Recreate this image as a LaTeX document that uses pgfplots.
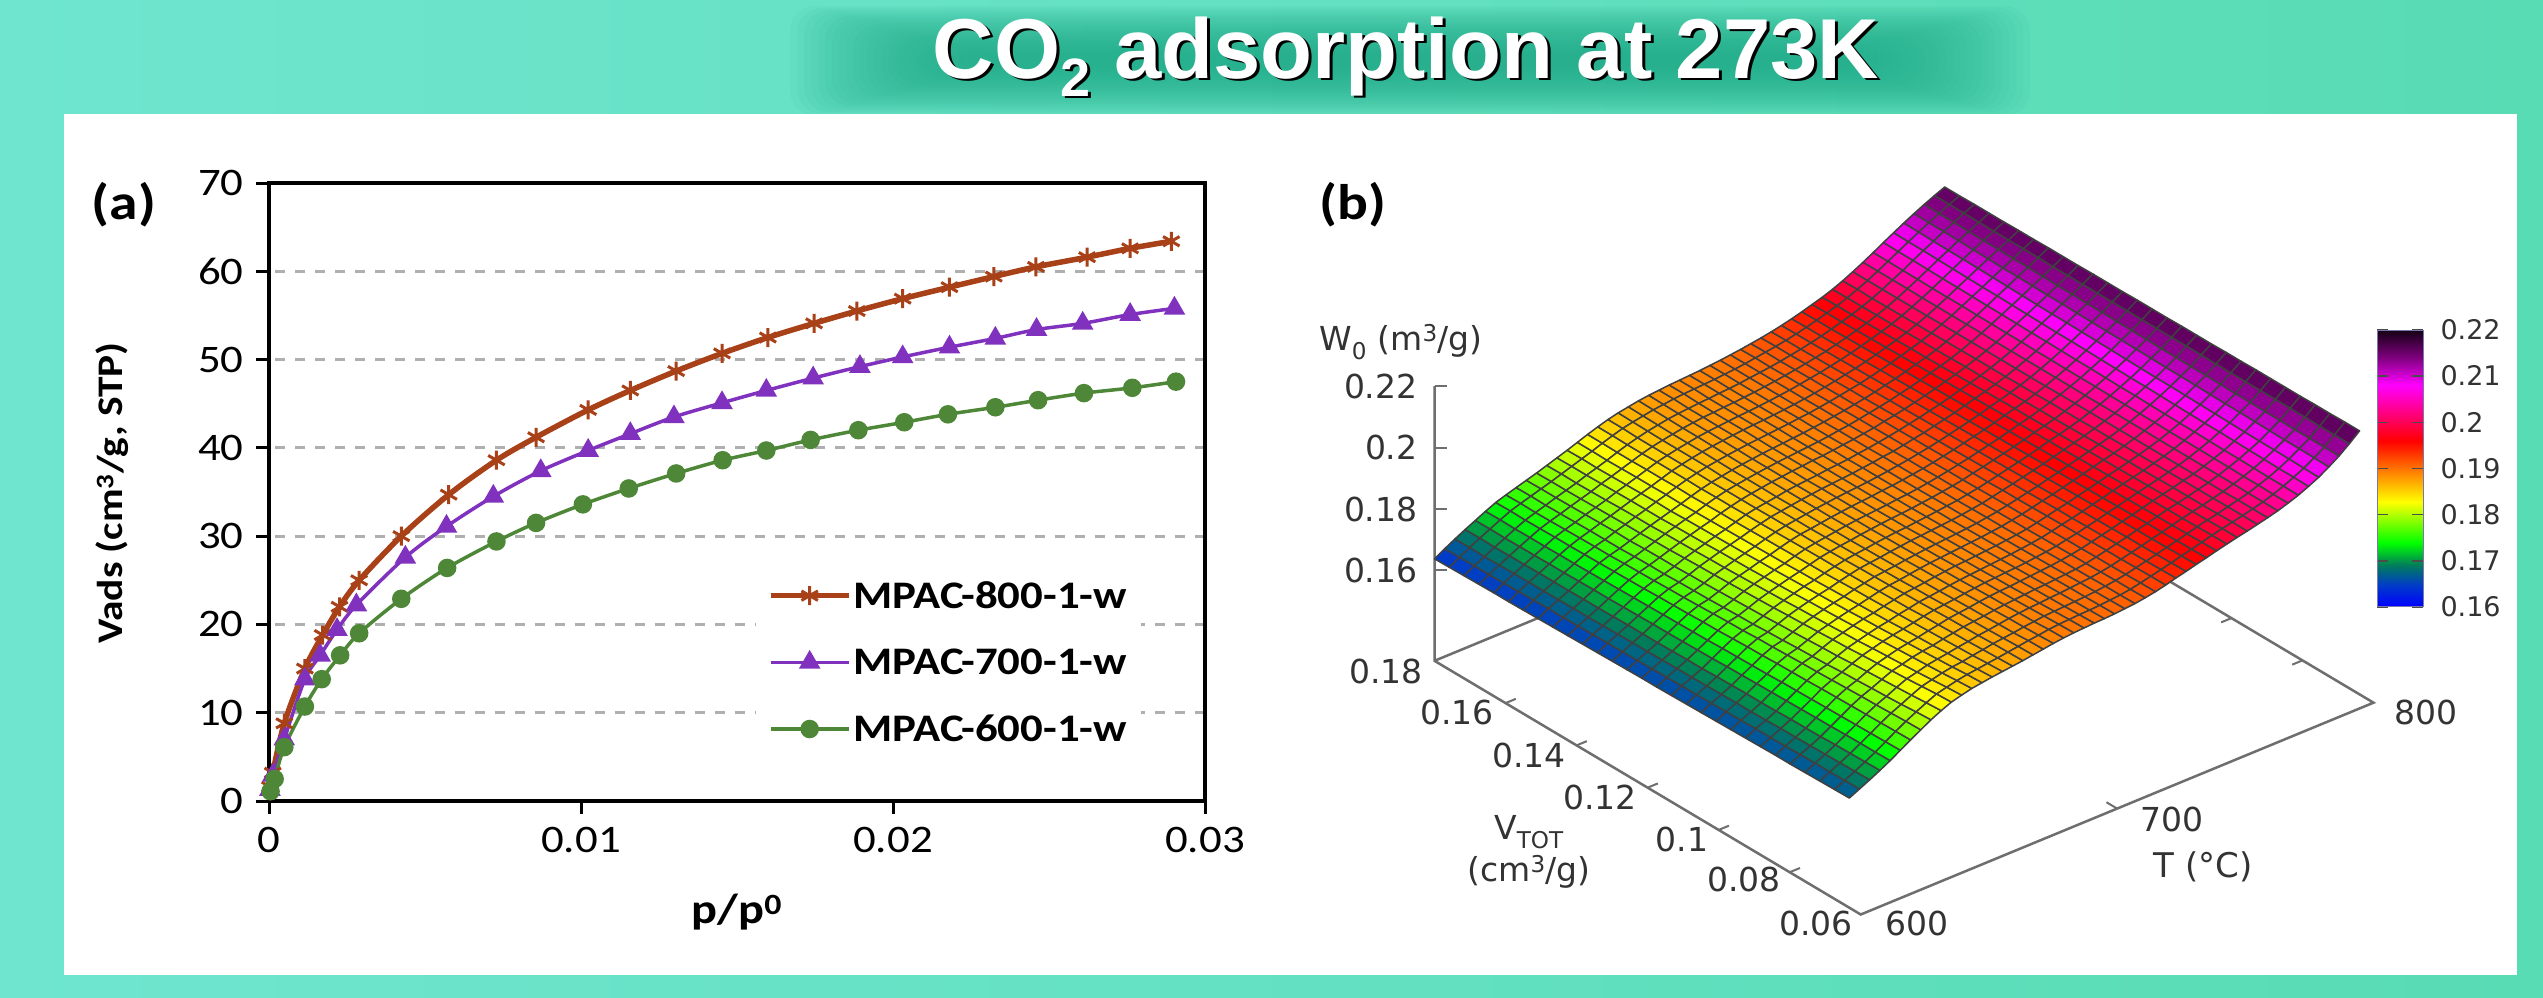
\documentclass[border=0pt]{standalone}
\usepackage{fontspec}
\usepackage{pgfplots}
\pgfplotsset{compat=1.18}
\newfontfamily\calf[FakeStretch=1.15]{Carlito}
\newfontfamily\ttlf{Liberation Sans}
\newfontfamily\gpf{DejaVu Sans}
\newcommand{\fs}[1]{\fontsize{#1}{#1}\selectfont}
\definecolor{c8}{RGB}{168,64,24}
\definecolor{c7}{RGB}{128,50,190}
\definecolor{c6}{RGB}{78,135,55}
\definecolor{gax}{RGB}{110,110,110}
\definecolor{bgl}{RGB}{111,229,207}
\definecolor{bgm}{RGB}{85,232,195}
\definecolor{bgr}{RGB}{88,220,180}
\definecolor{band}{RGB}{30,170,135}
\definecolor{gridc}{RGB}{175,175,175}
\definecolor{cbline}{RGB}{120,120,170}
\pgfplotsset{colormap={gnu}{rgb255(0pt)=(0,0,255); rgb255(8pt)=(0,60,200); rgb255(15pt)=(0,125,90); rgb255(23pt)=(0,255,0); rgb255(38pt)=(255,255,0); rgb255(60pt)=(255,0,0); rgb255(80pt)=(255,0,255); rgb255(90pt)=(128,0,128); rgb255(100pt)=(20,0,20)}}
\begin{document}
\begin{tikzpicture}[x=1pt,y=1pt]
\useasboundingbox (0,0) rectangle (2543,997);
\shade[left color=bgl,middle color=bgm,right color=bgr] (0,0) rectangle (2543,997);
\foreach \r in {0,...,24}{\fill[band,opacity=0.06,rounded corners=25pt] ({790+\r*7},{997-116+\r*2}) rectangle ({2030-\r*7},{997-6-\r*2});}
\fill[white] (64,22) rectangle (2517,883);
\node[anchor=base,text=black] at (1409,{997-81}) {\ttlf\bfseries\fs{85}CO{\fs{54}\raisebox{-18pt}{2}} adsorption at 273K};
\node[anchor=base,text=white] at (1406,{997-78.5}) {\ttlf\bfseries\fs{85}CO{\fs{54}\raisebox{-18pt}{2}} adsorption at 273K};

% panel a
\begin{axis}[name=a,at={(269pt,196pt)},anchor=south west,scale only axis,width=936pt,height=618pt,
 xmin=0,xmax=0.03,ymin=0,ymax=70,clip=false,
 xtick={0,0.01,0.02,0.03},xticklabels={0,0.01,0.02,0.03},
 ytick={0,10,20,30,40,50,60,70},yticklabels={0,10,20,30,40,50,60,70},
 scaled x ticks=false,
 xtick pos=bottom,ytick pos=left,tick align=outside,
 major tick length=13pt,
 tick style={black,line width=3pt},
 axis line style={line width=3.5pt,black},
 tick label style={font=\calf\fs{39}},
 xticklabel style={yshift=-10pt},
 yticklabel style={xshift=-9pt},
 ymajorgrids,
 grid style={line width=3pt,color=gridc,dash pattern=on 10pt off 10pt,dash phase=-6pt},
 legend style={at={(0.52,0.375)},anchor=north west,draw=none,fill=white,font=\calf\bfseries\fs{39},
   row sep=35pt,inner xsep=12pt,inner ysep=10pt,cells={anchor=west}},
 legend image code/.code={\draw[mark repeat=2,mark phase=2,#1] plot coordinates {(0pt,0pt)(39pt,0pt)(78pt,0pt)};},
]
\addplot[c8,line width=5.5pt,smooth,mark=asterisk,mark size=9.5pt,mark options={solid,line width=3pt}] coordinates {
(0.00003,1.6)(0.00012,3.2)(0.00049,8.8)(0.00115,15)(0.00172,18.8)(0.00226,22)(0.00289,25)(0.00424,30)(0.00576,34.7)(0.00729,38.6)(0.00856,41.2)(0.01023,44.3)(0.01158,46.5)(0.01305,48.7)(0.01452,50.7)(0.01599,52.5)(0.01747,54.1)(0.01884,55.5)(0.02031,56.9)(0.02181,58.2)(0.02323,59.4)(0.02458,60.5)(0.02622,61.6)(0.0276,62.6)(0.02892,63.4)};
\addlegendentry{MPAC-800-1-w}
\addplot[c7,line width=3.5pt,smooth,mark=triangle*,mark size=9pt,mark options={solid}] coordinates {
(0.00003,1.3)(0.00012,2.9)(0.00049,7)(0.00115,13.8)(0.00164,16.5)(0.00218,19.4)(0.0028,22.2)(0.00437,27.6)(0.00569,31.1)(0.00719,34.5)(0.00871,37.4)(0.01023,39.7)(0.01158,41.6)(0.01298,43.5)(0.01452,45.1)(0.01594,46.5)(0.01744,47.9)(0.01894,49.2)(0.02031,50.3)(0.02181,51.4)(0.02328,52.4)(0.0246,53.4)(0.02608,54.1)(0.0276,55.1)(0.02902,55.8)};
\addlegendentry{MPAC-700-1-w}
\addplot[c6,line width=3.5pt,smooth,mark=*,mark size=7.5pt,mark options={solid}] coordinates {
(0.00005,1.1)(0.00018,2.5)(0.00049,6.1)(0.00115,10.7)(0.00169,13.8)(0.00228,16.5)(0.00289,19)(0.00424,22.9)(0.00571,26.4)(0.00729,29.4)(0.00856,31.5)(0.01006,33.6)(0.01153,35.4)(0.01305,37.1)(0.01454,38.6)(0.01594,39.7)(0.01736,40.9)(0.01889,42)(0.02036,42.9)(0.02176,43.8)(0.02328,44.6)(0.02465,45.4)(0.02612,46.2)(0.02767,46.8)(0.02907,47.5)};
\addlegendentry{MPAC-600-1-w}
\end{axis}
\node[anchor=center] at (124,{997-205}) {\calf\bfseries\fs{50}(a)};
\node[anchor=center] at (1353,{997-205}) {\calf\bfseries\fs{50}(b)};
\node[anchor=center,rotate=90] at (112,{997-493}) {\calf\bfseries\fs{36}Vads (cm\textsuperscript{3}/g, STP)};
\node[anchor=center] at (737,{997-912}) {\calf\bfseries\fs{42}p/p\textsuperscript{0}};

% panel b
\begin{axis}[name=b,at={(1434.5pt,82.5pt)},anchor=south west,
 x={(2.5638pt,1.0591pt)},y={(-3552pt,2114pt)},z={(0pt,3072.6pt)},
 xmin=600,xmax=800,ymin=0.06,ymax=0.18,zmin=0.1306,zmax=0.22,
 hide axis,clip=false,colormap name=gnu,point meta min=0.16,point meta max=0.22]
\addplot3[gax,line width=2.5pt,no markers] coordinates {(600,0.18,0.22)(600,0.18,0.1306)(600,0.06,0.1306)(800,0.06,0.1306)(800,0.18,0.1306)(600,0.18,0.1306)};
\draw[gax,line width=2pt] (axis cs:600,0.18,0.22) -- ++(12pt,0pt);
\draw[gax,line width=2pt] (axis cs:600,0.18,0.20) -- ++(12pt,0pt);
\draw[gax,line width=2pt] (axis cs:600,0.18,0.18) -- ++(12pt,0pt);
\draw[gax,line width=2pt] (axis cs:600,0.18,0.16) -- ++(12pt,0pt);
\draw[gax,line width=2pt] (axis cs:600,0.16,0.1306) -- (axis cs:604,0.16,0.1306);
\draw[gax,line width=2pt] (axis cs:600,0.14,0.1306) -- (axis cs:604,0.14,0.1306);
\draw[gax,line width=2pt] (axis cs:600,0.12,0.1306) -- (axis cs:604,0.12,0.1306);
\draw[gax,line width=2pt] (axis cs:600,0.10,0.1306) -- (axis cs:604,0.10,0.1306);
\draw[gax,line width=2pt] (axis cs:600,0.08,0.1306) -- (axis cs:604,0.08,0.1306);
\draw[gax,line width=2pt] (axis cs:800,0.10,0.1306) -- (axis cs:796,0.10,0.1306);
\draw[gax,line width=2pt] (axis cs:800,0.08,0.1306) -- (axis cs:796,0.08,0.1306);
\draw[gax,line width=2pt] (axis cs:700,0.06,0.1306) -- (axis cs:700,0.063,0.1306);
\addplot3[surf,shader=faceted,faceted color=black!75,line width=1.5pt,line join=round,mesh/cols=51,mesh/rows=29,mesh/ordering=y varies,z buffer=none,point meta=z]
table[x expr={600+3.98*floor((\coordindex+0.5)/29)},y expr={0.18-0.1168/28*(\coordindex-29*floor((\coordindex+0.5)/29))},z expr={\thisrowno{0}*0.0001},header=false,row sep=\\] {
1638\\1639\\1640\\1641\\1642\\1642\\1643\\1644\\1645\\1646\\1647\\1648\\1649\\1650\\1651\\1651\\1652\\1653\\1654\\1655\\1656\\1657\\1658\\1659\\1659\\1660\\1661\\1662\\1663\\
1657\\1658\\1659\\1659\\1660\\1661\\1662\\1663\\1663\\1664\\1665\\1666\\1666\\1667\\1668\\1669\\1670\\1670\\1671\\1672\\1673\\1674\\1674\\1675\\1676\\1677\\1677\\1678\\1679\\
1675\\1676\\1675\\1676\\1677\\1678\\1678\\1678\\1679\\1679\\1680\\1681\\1682\\1682\\1683\\1684\\1684\\1685\\1686\\1687\\1687\\1688\\1690\\1690\\1691\\1692\\1693\\1694\\1695\\
1692\\1693\\1692\\1693\\1693\\1694\\1694\\1694\\1695\\1695\\1696\\1697\\1697\\1697\\1698\\1699\\1699\\1701\\1702\\1703\\1703\\1704\\1706\\1706\\1707\\1709\\1710\\1711\\1712\\
1708\\1709\\1708\\1709\\1709\\1710\\1710\\1711\\1712\\1712\\1713\\1714\\1715\\1715\\1716\\1717\\1718\\1720\\1721\\1722\\1723\\1724\\1725\\1726\\1727\\1728\\1729\\1729\\1730\\
1724\\1725\\1724\\1725\\1725\\1726\\1726\\1727\\1728\\1729\\1730\\1731\\1732\\1733\\1734\\1735\\1737\\1738\\1739\\1740\\1742\\1743\\1744\\1745\\1746\\1747\\1748\\1749\\1750\\
1739\\1740\\1739\\1740\\1741\\1741\\1742\\1743\\1744\\1745\\1746\\1748\\1749\\1750\\1752\\1753\\1755\\1757\\1758\\1760\\1761\\1762\\1764\\1765\\1766\\1767\\1768\\1769\\1770\\
1750\\1751\\1750\\1751\\1752\\1753\\1754\\1754\\1756\\1757\\1758\\1760\\1761\\1763\\1765\\1767\\1768\\1771\\1772\\1774\\1776\\1777\\1779\\1781\\1783\\1784\\1786\\1788\\1789\\
1760\\1761\\1760\\1761\\1762\\1763\\1763\\1763\\1765\\1766\\1766\\1768\\1769\\1770\\1772\\1774\\1775\\1778\\1780\\1783\\1785\\1787\\1791\\1793\\1796\\1798\\1801\\1805\\1808\\
1770\\1771\\1771\\1772\\1773\\1774\\1775\\1774\\1776\\1777\\1777\\1779\\1780\\1782\\1784\\1786\\1788\\1791\\1793\\1796\\1799\\1801\\1805\\1808\\1811\\1814\\1817\\1821\\1824\\
1780\\1781\\1781\\1782\\1783\\1784\\1785\\1785\\1787\\1788\\1790\\1792\\1793\\1795\\1797\\1799\\1801\\1804\\1806\\1809\\1812\\1814\\1818\\1821\\1825\\1828\\1832\\1836\\1838\\
1791\\1792\\1791\\1792\\1793\\1795\\1796\\1796\\1798\\1799\\1800\\1802\\1803\\1805\\1807\\1809\\1811\\1814\\1816\\1818\\1821\\1823\\1827\\1830\\1833\\1836\\1840\\1844\\1847\\
1802\\1803\\1803\\1804\\1805\\1806\\1806\\1806\\1808\\1809\\1810\\1812\\1813\\1814\\1816\\1818\\1820\\1823\\1825\\1827\\1830\\1832\\1836\\1839\\1842\\1845\\1848\\1852\\1855\\
1813\\1814\\1813\\1814\\1815\\1816\\1817\\1816\\1818\\1819\\1820\\1821\\1822\\1824\\1825\\1827\\1829\\1831\\1833\\1835\\1838\\1840\\1843\\1845\\1848\\1851\\1854\\1858\\1860\\
1825\\1825\\1824\\1825\\1826\\1826\\1827\\1826\\1827\\1828\\1829\\1830\\1831\\1832\\1833\\1835\\1836\\1838\\1840\\1842\\1844\\1846\\1849\\1851\\1853\\1856\\1858\\1862\\1865\\
1837\\1837\\1836\\1836\\1837\\1837\\1838\\1837\\1838\\1839\\1839\\1840\\1841\\1842\\1843\\1844\\1845\\1847\\1849\\1850\\1852\\1854\\1856\\1858\\1860\\1862\\1864\\1867\\1869\\
1848\\1848\\1847\\1847\\1848\\1848\\1848\\1847\\1848\\1848\\1849\\1849\\1850\\1851\\1852\\1853\\1853\\1855\\1856\\1858\\1859\\1860\\1863\\1864\\1866\\1867\\1869\\1871\\1873\\
1858\\1858\\1856\\1856\\1856\\1856\\1856\\1855\\1856\\1856\\1856\\1857\\1857\\1858\\1858\\1859\\1860\\1862\\1863\\1864\\1866\\1867\\1869\\1871\\1872\\1873\\1875\\1876\\1877\\
1866\\1865\\1864\\1863\\1863\\1863\\1863\\1861\\1862\\1862\\1861\\1862\\1862\\1862\\1863\\1864\\1865\\1866\\1867\\1868\\1870\\1871\\1873\\1875\\1876\\1877\\1879\\1881\\1882\\
1872\\1871\\1870\\1869\\1869\\1869\\1868\\1867\\1867\\1867\\1866\\1867\\1867\\1867\\1868\\1868\\1869\\1870\\1871\\1873\\1874\\1875\\1877\\1879\\1880\\1882\\1883\\1886\\1887\\
1878\\1877\\1876\\1875\\1875\\1874\\1873\\1872\\1872\\1872\\1872\\1872\\1872\\1872\\1873\\1873\\1874\\1875\\1876\\1878\\1879\\1880\\1882\\1884\\1885\\1887\\1888\\1890\\1892\\
1882\\1881\\1880\\1879\\1879\\1878\\1877\\1876\\1876\\1876\\1876\\1876\\1876\\1876\\1877\\1877\\1878\\1879\\1880\\1882\\1883\\1884\\1886\\1888\\1889\\1891\\1892\\1895\\1896\\
1885\\1885\\1883\\1883\\1882\\1882\\1881\\1880\\1880\\1880\\1879\\1880\\1880\\1880\\1880\\1881\\1882\\1883\\1884\\1885\\1887\\1887\\1890\\1891\\1892\\1894\\1896\\1898\\1899\\
1888\\1888\\1886\\1885\\1885\\1885\\1884\\1883\\1883\\1883\\1882\\1883\\1883\\1883\\1883\\1884\\1884\\1886\\1887\\1888\\1889\\1890\\1892\\1893\\1895\\1896\\1898\\1900\\1901\\
1890\\1890\\1888\\1888\\1888\\1888\\1887\\1886\\1886\\1887\\1886\\1886\\1886\\1886\\1886\\1887\\1888\\1889\\1890\\1891\\1892\\1893\\1895\\1896\\1898\\1899\\1900\\1902\\1903\\
1892\\1892\\1891\\1890\\1890\\1890\\1890\\1889\\1889\\1889\\1889\\1889\\1889\\1890\\1890\\1890\\1891\\1892\\1893\\1894\\1895\\1896\\1897\\1899\\1900\\1901\\1902\\1903\\1904\\
1894\\1894\\1893\\1893\\1893\\1893\\1893\\1892\\1892\\1893\\1892\\1893\\1893\\1893\\1893\\1894\\1895\\1895\\1896\\1897\\1898\\1899\\1900\\1902\\1903\\1904\\1904\\1905\\1906\\
1897\\1897\\1896\\1896\\1896\\1896\\1897\\1896\\1896\\1897\\1897\\1897\\1897\\1897\\1897\\1898\\1899\\1899\\1900\\1901\\1902\\1903\\1904\\1905\\1906\\1907\\1907\\1908\\1909\\
1900\\1900\\1900\\1900\\1900\\1900\\1900\\1900\\1901\\1901\\1901\\1902\\1902\\1902\\1902\\1903\\1903\\1904\\1905\\1905\\1906\\1907\\1908\\1909\\1909\\1910\\1911\\1911\\1912\\
1904\\1904\\1904\\1904\\1904\\1904\\1905\\1905\\1905\\1906\\1906\\1906\\1907\\1907\\1908\\1908\\1909\\1909\\1910\\1911\\1911\\1912\\1913\\1914\\1914\\1915\\1916\\1916\\1917\\
1908\\1909\\1908\\1909\\1909\\1909\\1910\\1910\\1911\\1911\\1912\\1912\\1913\\1913\\1914\\1914\\1915\\1916\\1917\\1917\\1918\\1919\\1920\\1920\\1921\\1921\\1922\\1923\\1923\\
1913\\1914\\1913\\1914\\1915\\1915\\1916\\1916\\1917\\1918\\1918\\1919\\1919\\1920\\1921\\1922\\1922\\1924\\1924\\1925\\1926\\1927\\1927\\1928\\1929\\1929\\1930\\1931\\1931\\
1918\\1919\\1919\\1920\\1920\\1921\\1922\\1922\\1923\\1924\\1925\\1925\\1926\\1927\\1928\\1929\\1930\\1931\\1932\\1933\\1934\\1934\\1935\\1936\\1937\\1937\\1938\\1939\\1940\\
1924\\1925\\1925\\1926\\1927\\1928\\1928\\1929\\1930\\1931\\1932\\1933\\1934\\1935\\1936\\1937\\1938\\1939\\1939\\1940\\1941\\1942\\1943\\1944\\1945\\1945\\1946\\1947\\1948\\
1931\\1932\\1932\\1933\\1934\\1935\\1936\\1937\\1938\\1939\\1940\\1941\\1942\\1943\\1944\\1945\\1946\\1947\\1948\\1949\\1950\\1951\\1952\\1953\\1954\\1954\\1955\\1956\\1957\\
1939\\1940\\1940\\1941\\1942\\1943\\1944\\1945\\1946\\1947\\1948\\1949\\1950\\1951\\1952\\1953\\1954\\1955\\1956\\1957\\1958\\1959\\1960\\1961\\1962\\1962\\1963\\1964\\1965\\
1948\\1949\\1949\\1950\\1951\\1952\\1953\\1954\\1955\\1956\\1957\\1958\\1959\\1960\\1961\\1962\\1963\\1964\\1965\\1966\\1967\\1968\\1969\\1970\\1971\\1971\\1972\\1973\\1974\\
1958\\1959\\1959\\1960\\1961\\1962\\1963\\1964\\1965\\1966\\1967\\1968\\1969\\1970\\1971\\1972\\1973\\1973\\1974\\1975\\1976\\1977\\1978\\1979\\1980\\1980\\1981\\1982\\1982\\
1968\\1969\\1969\\1970\\1971\\1972\\1973\\1973\\1974\\1975\\1976\\1977\\1978\\1979\\1979\\1980\\1981\\1982\\1983\\1984\\1984\\1985\\1986\\1987\\1987\\1988\\1989\\1990\\1990\\
1980\\1981\\1981\\1982\\1982\\1983\\1984\\1984\\1985\\1986\\1986\\1987\\1988\\1988\\1989\\1989\\1990\\1991\\1992\\1992\\1993\\1993\\1994\\1995\\1995\\1995\\1996\\1997\\1997\\
1994\\1995\\1994\\1995\\1995\\1996\\1996\\1997\\1997\\1998\\1998\\1998\\1999\\1999\\2000\\2000\\2000\\2001\\2001\\2002\\2002\\2003\\2003\\2004\\2004\\2004\\2005\\2005\\2005\\
2010\\2010\\2010\\2010\\2010\\2010\\2011\\2011\\2011\\2011\\2011\\2011\\2011\\2011\\2012\\2012\\2012\\2012\\2012\\2012\\2012\\2012\\2012\\2012\\2012\\2012\\2013\\2013\\2013\\
2027\\2027\\2027\\2027\\2026\\2026\\2026\\2026\\2026\\2025\\2025\\2025\\2025\\2025\\2025\\2024\\2024\\2024\\2024\\2024\\2023\\2023\\2023\\2023\\2023\\2023\\2022\\2022\\2022\\
2045\\2045\\2044\\2044\\2043\\2043\\2043\\2042\\2042\\2041\\2041\\2040\\2040\\2039\\2039\\2039\\2038\\2038\\2037\\2037\\2036\\2036\\2036\\2035\\2035\\2034\\2034\\2033\\2033\\
2064\\2063\\2063\\2062\\2061\\2061\\2060\\2059\\2059\\2058\\2057\\2057\\2056\\2055\\2055\\2054\\2053\\2053\\2052\\2051\\2050\\2050\\2049\\2048\\2048\\2047\\2046\\2046\\2045\\
2082\\2081\\2081\\2080\\2079\\2078\\2077\\2077\\2076\\2075\\2074\\2073\\2073\\2072\\2071\\2070\\2069\\2069\\2068\\2067\\2066\\2065\\2065\\2064\\2063\\2062\\2061\\2061\\2060\\
2100\\2099\\2098\\2097\\2097\\2096\\2095\\2094\\2093\\2092\\2091\\2091\\2090\\2089\\2088\\2087\\2086\\2085\\2085\\2084\\2083\\2082\\2081\\2080\\2079\\2079\\2078\\2077\\2076\\
2117\\2116\\2116\\2115\\2114\\2113\\2112\\2112\\2111\\2110\\2110\\2109\\2108\\2107\\2107\\2106\\2105\\2104\\2104\\2103\\2102\\2101\\2101\\2100\\2099\\2098\\2098\\2097\\2096\\
2133\\2132\\2132\\2131\\2130\\2130\\2129\\2129\\2128\\2127\\2127\\2126\\2126\\2125\\2125\\2124\\2123\\2123\\2122\\2122\\2121\\2120\\2120\\2119\\2119\\2118\\2118\\2118\\2118\\
2148\\2148\\2148\\2147\\2147\\2147\\2147\\2147\\2146\\2146\\2146\\2146\\2146\\2146\\2146\\2146\\2146\\2146\\2146\\2145\\2145\\2145\\2145\\2145\\2145\\2144\\2144\\2144\\2144\\
2162\\2162\\2163\\2163\\2163\\2164\\2164\\2165\\2165\\2165\\2166\\2166\\2166\\2167\\2167\\2167\\2168\\2168\\2168\\2169\\2169\\2170\\2170\\2170\\2170\\2171\\2171\\2172\\2172\\
};
\end{axis}

% colour bar
\begin{axis}[at={(2377pt,390pt)},anchor=south west,scale only axis,width=46pt,height=277pt,
 xmin=0,xmax=1,ymin=0.16,ymax=0.22,xtick=\empty,
 ytick={0.16,0.17,0.18,0.19,0.2,0.21,0.22},yticklabels={0.16,0.17,0.18,0.19,0.2,0.21,0.22},
 yticklabel pos=right,ytick pos=both,tick align=inside,major tick length=11pt,
 tick style={black!70,line width=1.6pt},
 axis line style={line width=1pt,color=cbline},
 tick label style={font=\gpf\fs{27},text=black!80},
 yticklabel style={xshift=14pt},
 axis on top,colormap name=gnu,point meta min=0.16,point meta max=0.22]
\addplot[surf,shader=interp,point meta=y,mesh/cols=2,mesh/rows=9] coordinates {
(0,0.16)(1,0.16)(0,0.1648)(1,0.1648)(0,0.169)(1,0.169)(0,0.1738)(1,0.1738)(0,0.1828)(1,0.1828)(0,0.196)(1,0.196)(0,0.208)(1,0.208)(0,0.214)(1,0.214)(0,0.22)(1,0.22)};
\end{axis}

% panel b labels
\newcommand{\lab}[4][center]{\node[anchor=#1,text=black!80] at (#2,{997-#3}) {\gpf\fs{33}#4};}
\lab[east]{1421}{386}{0.22}
\lab[east]{1421}{447}{0.2}
\lab[east]{1421}{509}{0.18}
\lab[east]{1421}{570}{0.16}
\lab{1386}{671}{0.18}
\lab{1457}{712}{0.16}
\lab{1529}{755}{0.14}
\lab{1600}{797}{0.12}
\lab{1682}{839}{0.1}
\lab{1744}{879}{0.08}
\lab{1816}{923}{0.06}
\lab{1917}{923}{600}
\lab{2172}{819}{700}
\lab{2426}{712}{800}
\node[text=black!80] at (1401,{997-342}) {\gpf\fs{33}W\textsubscript{0} (m\textsuperscript{3}/g)};
\node[text=black!80] at (1529,{997-832}) {\gpf\fs{33}V\textsubscript{TOT}};
\node[text=black!80] at (1529,{997-872}) {\gpf\fs{33}(cm\textsuperscript{3}/g)};
\node[text=black!80] at (2203,{997-867}) {\gpf\fs{34}T (°C)};
\end{tikzpicture}
\end{document}
